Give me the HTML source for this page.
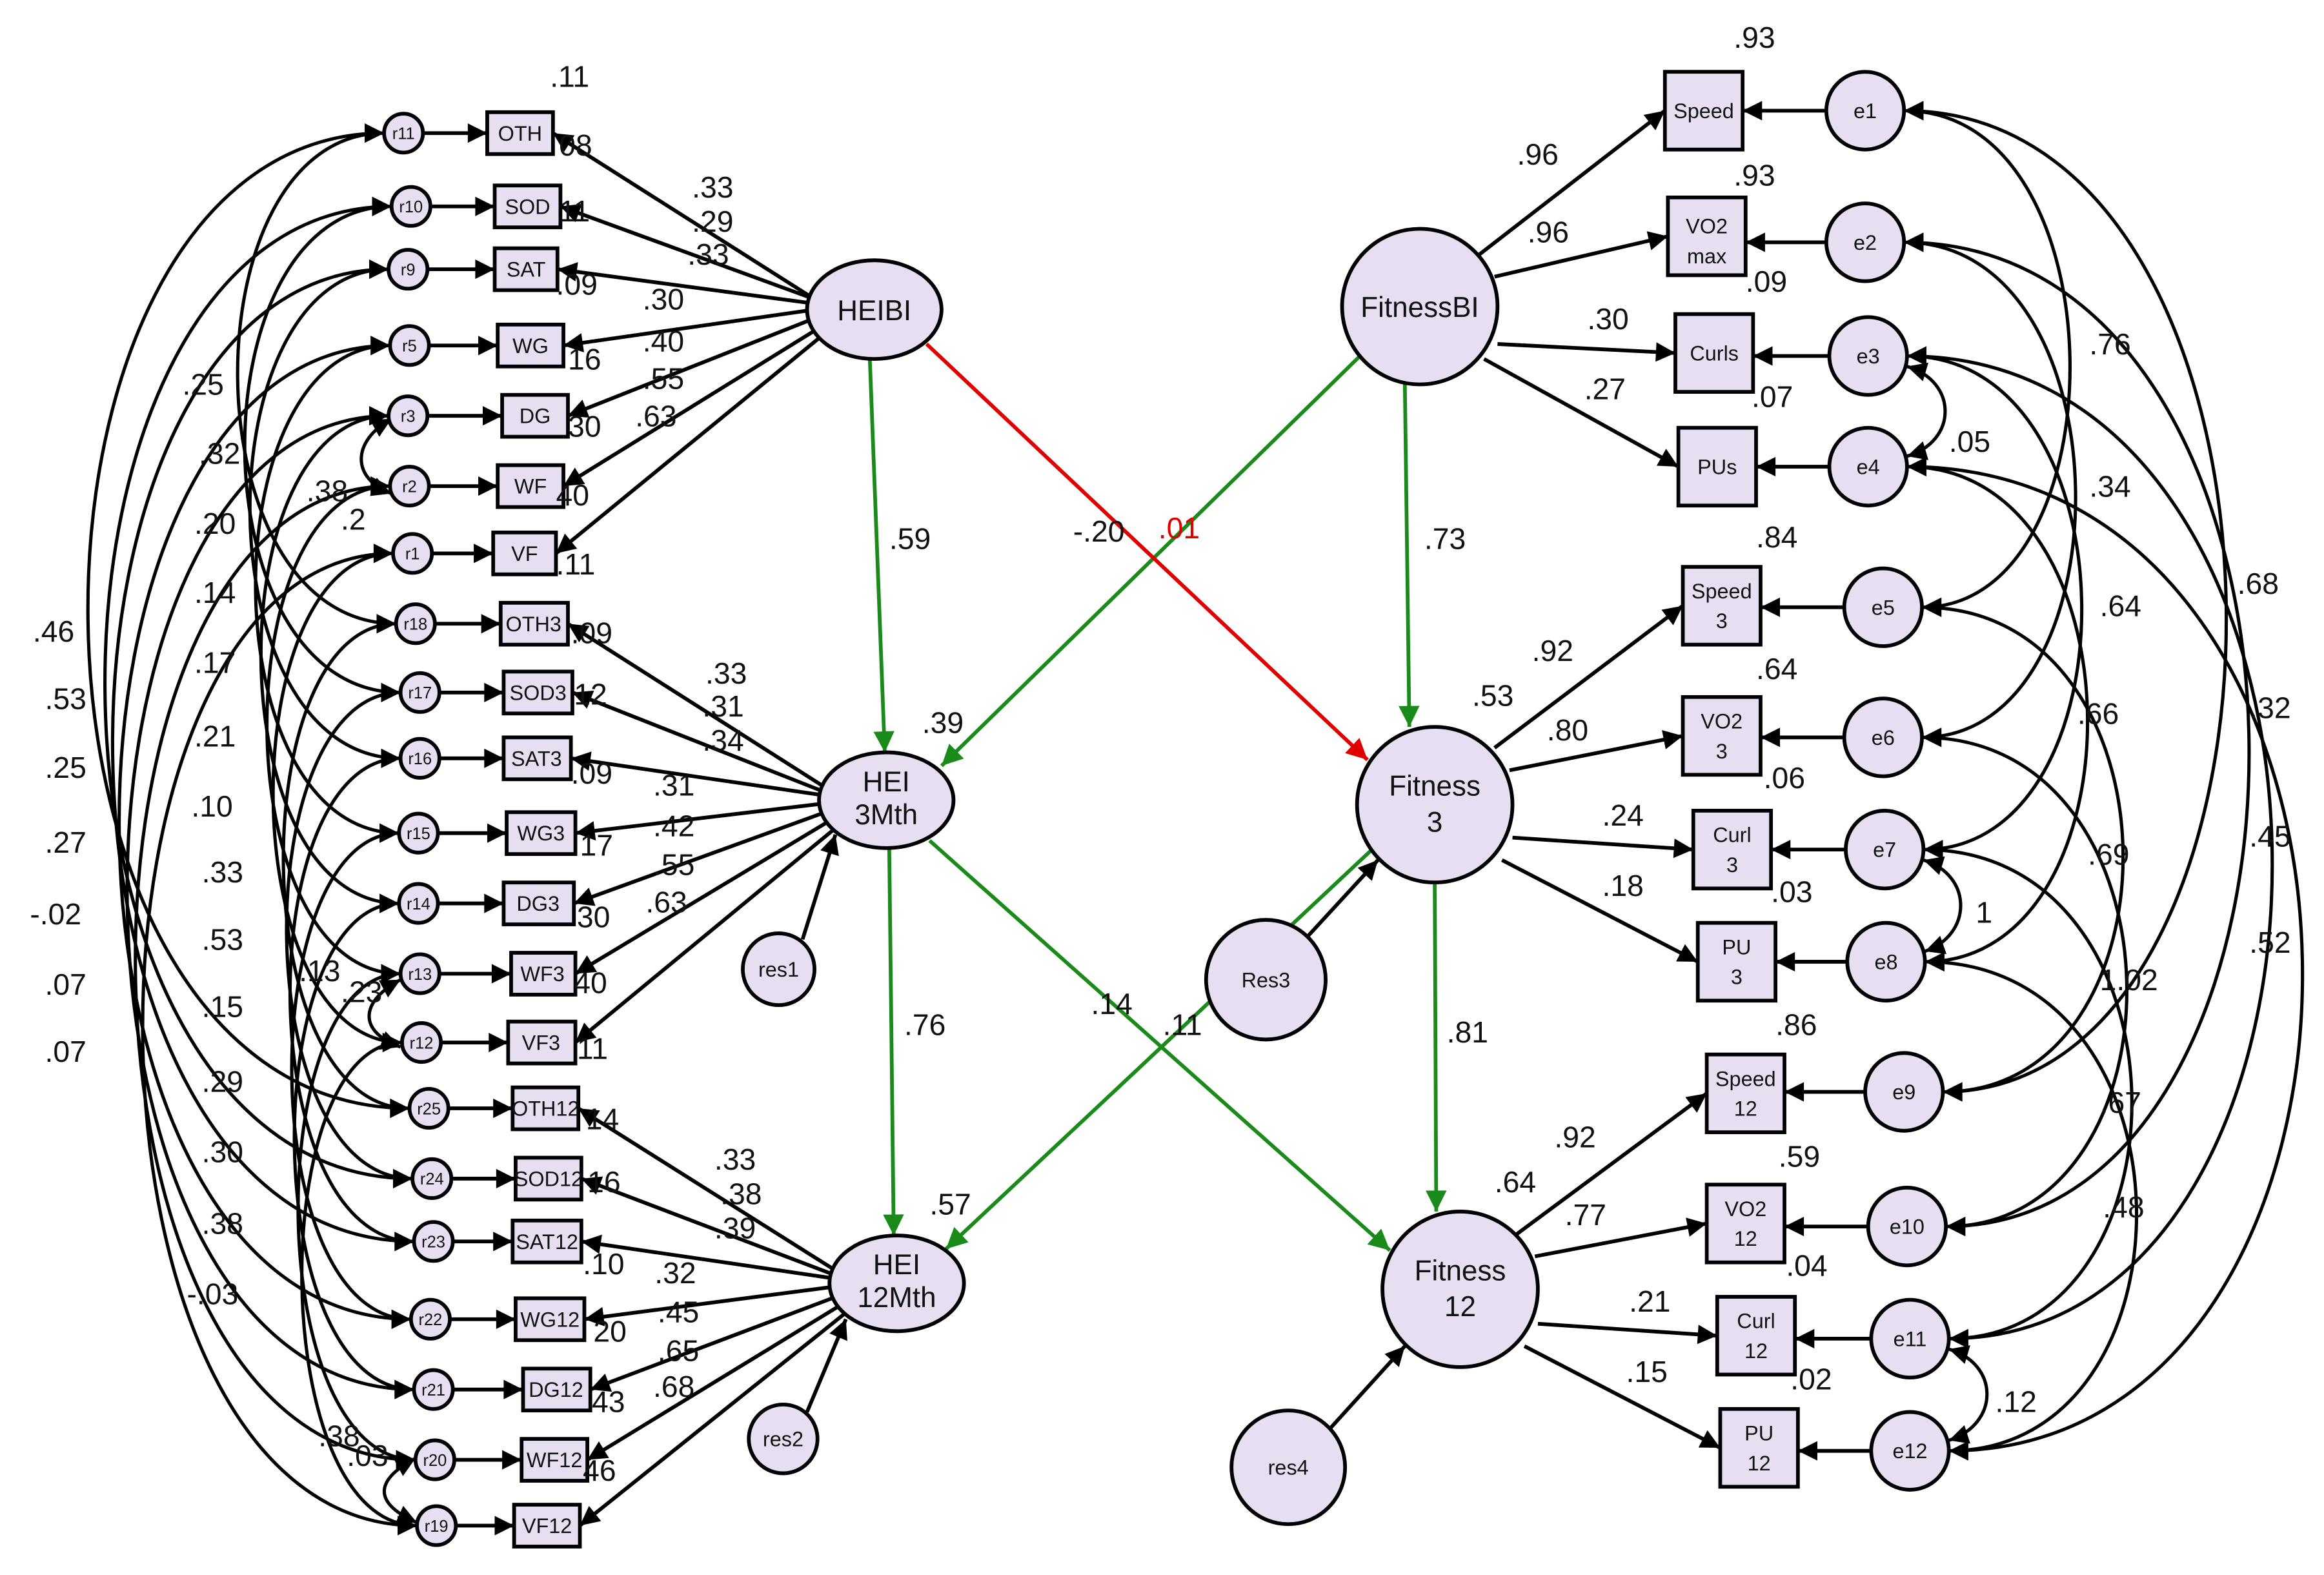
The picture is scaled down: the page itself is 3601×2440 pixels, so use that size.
<!DOCTYPE html>
<html><head><meta charset="utf-8"><style>
html,body{margin:0;padding:0;background:#fff}
svg{display:block}
text{font-family:"Liberation Sans",Arial,sans-serif}
.n{font-size:20px;fill:#111}
.b{font-size:14px;fill:#111;text-anchor:middle}
.l{font-size:19px;fill:#111;text-anchor:middle}
</style></head><body>
<svg width="3601" height="2440" viewBox="0 0 1555 1053" preserveAspectRatio="none" xmlns="http://www.w3.org/2000/svg">
<defs>
<marker id="a" viewBox="0 0 10 10" refX="10" refY="5" markerWidth="20" markerHeight="13" markerUnits="userSpaceOnUse" orient="auto-start-reverse"><path d="M0,0L10,5L0,10z" fill="#000"/></marker>
<marker id="g" viewBox="0 0 10 10" refX="10" refY="5" markerWidth="22" markerHeight="14" markerUnits="userSpaceOnUse" orient="auto"><path d="M0,0L10,5L0,10z" fill="#1a8a1a"/></marker>
<marker id="r" viewBox="0 0 10 10" refX="10" refY="5" markerWidth="22" markerHeight="14" markerUnits="userSpaceOnUse" orient="auto"><path d="M0,0L10,5L0,10z" fill="#e00000"/></marker>
</defs>
<rect width="1555" height="1053" fill="#fff"/>

<!-- left covariances -->
<g fill="none" stroke="#000" stroke-width="2.2" marker-start="url(#a)" marker-end="url(#a)">
<path d="M257 89 C125 89 125 417 265 417"/><path d="M265 417 C163 417 163 741 274 741"/><path d="M257 89 C-10 89 -10 741 274 741"/>
<path d="M262 138 C130 138 130 463 268 463"/><path d="M268 463 C165 463 165 788 276 788"/><path d="M262 138 C4 138 4 788 276 788"/>
<path d="M260 180 C135 180 135 507 268 507"/><path d="M268 507 C168 507 168 830 277 830"/><path d="M260 180 C11 180 11 830 277 830"/>
<path d="M261 231 C140 231 140 557 267 557"/><path d="M267 557 C170 557 170 882 275 882"/><path d="M261 231 C17 231 17 882 275 882"/>
<path d="M260 278 C145 278 145 604 267 604"/><path d="M267 604 C172 604 172 929 277 929"/><path d="M260 278 C24 278 24 929 277 929"/>
<path d="M261 325 C150 325 150 651 268 651"/><path d="M268 651 C175 651 175 976 278 976"/><path d="M261 325 C31 325 31 976 278 976"/>
<path d="M263 370 C155 370 155 697 269 697"/><path d="M269 697 C178 697 178 1020 279 1020"/><path d="M263 370 C37 370 37 1020 279 1020"/>
<path d="M262 280 C235 295 235 320 262 330"/><path d="M268 655 C240 670 240 690 268 700"/><path d="M278 975 C250 990 250 1005 279 1018"/>
</g>

<!-- right covariances -->
<g fill="none" stroke="#000" stroke-width="2.2" marker-start="url(#a)" marker-end="url(#a)">
<path d="M1274 74 C1420 74 1420 406 1286 406"/><path d="M1286 406 C1463 406 1463 730 1300 730"/><path d="M1274 74 C1557 74 1557 730 1300 730"/>
<path d="M1274 162 C1425 162 1425 493 1286 493"/><path d="M1286 493 C1466 493 1466 820 1302 820"/><path d="M1274 162 C1577 162 1577 820 1302 820"/>
<path d="M1276 238 C1430 238 1430 568 1287 568"/><path d="M1287 568 C1470 568 1470 895 1304 895"/><path d="M1276 238 C1597 238 1597 895 1304 895"/>
<path d="M1276 312 C1435 312 1435 643 1288 643"/><path d="M1288 643 C1474 643 1474 970 1304 970"/><path d="M1276 312 C1624 312 1624 970 1304 970"/>
<path d="M1276 245 C1310 255 1310 295 1276 305"/><path d="M1287 575 C1320 585 1320 625 1288 636"/><path d="M1304 902 C1338 912 1338 952 1304 963"/>
</g>

<!-- measurement paths left -->
<g stroke="#000" stroke-width="2.5" marker-end="url(#a)">
<line x1="283" y1="89" x2="326" y2="89"/><line x1="288" y1="138" x2="331" y2="138"/><line x1="286" y1="180" x2="331" y2="180"/>
<line x1="287" y1="231" x2="333" y2="231"/><line x1="286" y1="278" x2="336" y2="278"/><line x1="287" y1="325" x2="333" y2="325"/>
<line x1="289" y1="370" x2="330" y2="370"/><line x1="291" y1="417" x2="335" y2="417"/><line x1="294" y1="463" x2="337" y2="463"/>
<line x1="294" y1="507" x2="337" y2="507"/><line x1="293" y1="557" x2="339" y2="557"/><line x1="293" y1="604" x2="337" y2="604"/>
<line x1="294" y1="651" x2="342" y2="651"/><line x1="295" y1="697" x2="340" y2="697"/><line x1="300" y1="741" x2="343" y2="741"/>
<line x1="302" y1="788" x2="345" y2="788"/><line x1="303" y1="830" x2="343" y2="830"/><line x1="301" y1="882" x2="345" y2="882"/>
<line x1="303" y1="929" x2="350" y2="929"/><line x1="304" y1="976" x2="349" y2="976"/><line x1="305" y1="1020" x2="344" y2="1020"/>
<!-- HEIBI -->
<line x1="545" y1="200" x2="370" y2="89"/><line x1="545" y1="200" x2="375" y2="138"/><line x1="545" y1="203" x2="373" y2="180"/>
<line x1="545" y1="207" x2="377" y2="231"/><line x1="547" y1="212" x2="380" y2="278"/><line x1="550" y1="218" x2="377" y2="325"/>
<line x1="553" y1="222" x2="372" y2="370"/>
<!-- HEI3 -->
<line x1="553" y1="527" x2="380" y2="417"/><line x1="553" y1="530" x2="383" y2="463"/><line x1="553" y1="532" x2="382" y2="507"/>
<line x1="553" y1="537" x2="385" y2="557"/><line x1="555" y1="542" x2="384" y2="604"/><line x1="558" y1="547" x2="385" y2="651"/>
<line x1="561" y1="552" x2="385" y2="697"/>
<!-- HEI12 -->
<line x1="560" y1="850" x2="387" y2="741"/><line x1="560" y1="853" x2="389" y2="788"/><line x1="560" y1="855" x2="389" y2="830"/>
<line x1="560" y1="860" x2="391" y2="882"/><line x1="562" y1="866" x2="395" y2="929"/><line x1="565" y1="871" x2="393" y2="976"/>
<line x1="568" y1="876" x2="388" y2="1020"/>
<!-- res -->
<line x1="537" y1="628" x2="559" y2="558"/><line x1="540" y1="944" x2="566" y2="882"/>
<line x1="875" y1="626" x2="922" y2="575"/><line x1="890" y1="955" x2="940" y2="900"/>
<!-- right measurement -->
<line x1="990" y1="170" x2="1114" y2="74"/><line x1="1000" y1="185" x2="1116" y2="158"/><line x1="1002" y1="230" x2="1121" y2="236"/><line x1="993" y1="240" x2="1123" y2="312"/>
<line x1="1000" y1="500" x2="1126" y2="405"/><line x1="1010" y1="515" x2="1126" y2="492"/><line x1="1012" y1="560" x2="1133" y2="568"/><line x1="1005" y1="575" x2="1136" y2="643"/>
<line x1="1015" y1="825" x2="1142" y2="731"/><line x1="1027" y1="840" x2="1142" y2="818"/><line x1="1029" y1="885" x2="1149" y2="893"/><line x1="1020" y1="900" x2="1151" y2="968"/>
<line x1="1222" y1="74" x2="1166" y2="74"/><line x1="1222" y1="162" x2="1168" y2="162"/><line x1="1224" y1="238" x2="1173" y2="238"/><line x1="1224" y1="312" x2="1175" y2="312"/>
<line x1="1234" y1="406" x2="1178" y2="406"/><line x1="1234" y1="493" x2="1178" y2="493"/><line x1="1235" y1="568" x2="1185" y2="568"/><line x1="1236" y1="643" x2="1188" y2="643"/>
<line x1="1248" y1="730" x2="1194" y2="730"/><line x1="1250" y1="820" x2="1194" y2="820"/><line x1="1252" y1="895" x2="1201" y2="895"/><line x1="1252" y1="970" x2="1203" y2="970"/>
</g>

<!-- structural -->
<g stroke="#1a8a1a" stroke-width="2.5" marker-end="url(#g)">
<line x1="582" y1="240" x2="592" y2="503"/><line x1="595" y1="567" x2="598" y2="826"/>
<line x1="940" y1="257" x2="943" y2="486"/><line x1="960" y1="590" x2="961" y2="810"/>
<line x1="910" y1="238" x2="630" y2="512"/><line x1="622" y1="562" x2="930" y2="836"/><line x1="918" y1="568" x2="633" y2="835"/>
</g>
<line x1="620" y1="230" x2="915" y2="508" stroke="#e00000" stroke-width="2.5" marker-end="url(#r)"/>

<!-- shapes -->
<g fill="#e8def2" stroke="#000" stroke-width="2.5">
<circle cx="270" cy="89" r="13"/><circle cx="275" cy="138" r="13"/><circle cx="273" cy="180" r="13"/><circle cx="274" cy="231" r="13"/>
<circle cx="273" cy="278" r="13"/><circle cx="274" cy="325" r="13"/><circle cx="276" cy="370" r="13"/><circle cx="278" cy="417" r="13"/>
<circle cx="281" cy="463" r="13"/><circle cx="281" cy="507" r="13"/><circle cx="280" cy="557" r="13"/><circle cx="280" cy="604" r="13"/>
<circle cx="281" cy="651" r="13"/><circle cx="282" cy="697" r="13"/><circle cx="287" cy="741" r="13"/><circle cx="289" cy="788" r="13"/>
<circle cx="290" cy="830" r="13"/><circle cx="288" cy="882" r="13"/><circle cx="290" cy="929" r="13"/><circle cx="291" cy="976" r="13"/>
<circle cx="292" cy="1020" r="13"/>
<rect x="326" y="75" width="44" height="28"/><rect x="331" y="124" width="44" height="28"/><rect x="331" y="166" width="42" height="28"/>
<rect x="333" y="217" width="44" height="28"/><rect x="336" y="264" width="44" height="28"/><rect x="333" y="311" width="44" height="28"/>
<rect x="330" y="356" width="42" height="28"/><rect x="335" y="403" width="45" height="28"/><rect x="337" y="449" width="46" height="28"/>
<rect x="337" y="493" width="45" height="28"/><rect x="339" y="543" width="46" height="28"/><rect x="337" y="590" width="47" height="28"/>
<rect x="342" y="637" width="43" height="28"/><rect x="340" y="683" width="45" height="28"/><rect x="343" y="727" width="44" height="28"/>
<rect x="345" y="774" width="44" height="28"/><rect x="343" y="816" width="46" height="28"/><rect x="345" y="868" width="46" height="28"/>
<rect x="350" y="915" width="45" height="28"/><rect x="349" y="962" width="44" height="28"/><rect x="344" y="1006" width="44" height="28"/>
<ellipse cx="585" cy="207" rx="45" ry="33"/><ellipse cx="593" cy="535" rx="45" ry="32"/><ellipse cx="600" cy="858" rx="45" ry="32"/>
<circle cx="521" cy="648" r="24"/><circle cx="524" cy="962" r="23"/><circle cx="847" cy="655" r="40"/><circle cx="862" cy="981" r="38"/>
<circle cx="950" cy="205" r="52"/><circle cx="960" cy="538" r="52"/><circle cx="977" cy="862" r="52"/>
<rect x="1114" y="48" width="52" height="52"/><rect x="1116" y="132" width="52" height="52"/><rect x="1121" y="210" width="52" height="52"/><rect x="1123" y="286" width="52" height="52"/>
<rect x="1126" y="379" width="52" height="52"/><rect x="1126" y="466" width="52" height="52"/><rect x="1133" y="542" width="52" height="52"/><rect x="1136" y="617" width="52" height="52"/>
<rect x="1142" y="705" width="52" height="52"/><rect x="1142" y="792" width="52" height="52"/><rect x="1149" y="867" width="52" height="52"/><rect x="1151" y="942" width="52" height="52"/>
<circle cx="1248" cy="74" r="26"/><circle cx="1248" cy="162" r="26"/><circle cx="1250" cy="238" r="26"/><circle cx="1250" cy="312" r="26"/>
<circle cx="1260" cy="406" r="26"/><circle cx="1260" cy="493" r="26"/><circle cx="1261" cy="568" r="26"/><circle cx="1262" cy="643" r="26"/>
<circle cx="1274" cy="730" r="26"/><circle cx="1276" cy="820" r="26"/><circle cx="1278" cy="895" r="26"/><circle cx="1278" cy="970" r="26"/>
</g>

<!-- shape labels -->
<g style="font-size:11px;text-anchor:middle;fill:#111">
<text x="270" y="93">r11</text><text x="275" y="142">r10</text><text x="273" y="184">r9</text><text x="274" y="235">r5</text>
<text x="273" y="282">r3</text><text x="274" y="329">r2</text><text x="276" y="374">r1</text><text x="278" y="421">r18</text>
<text x="281" y="467">r17</text><text x="281" y="511">r16</text><text x="280" y="561">r15</text><text x="280" y="608">r14</text>
<text x="281" y="655">r13</text><text x="282" y="701">r12</text><text x="287" y="745">r25</text><text x="289" y="792">r24</text>
<text x="290" y="834">r23</text><text x="288" y="886">r22</text><text x="290" y="933">r21</text><text x="291" y="980">r20</text><text x="292" y="1024">r19</text>
</g>
<g class="b">
<text x="348" y="94">OTH</text><text x="353" y="143">SOD</text><text x="352" y="185">SAT</text><text x="355" y="236">WG</text>
<text x="358" y="283">DG</text><text x="355" y="330">WF</text><text x="351" y="375">VF</text><text x="357" y="422">OTH3</text>
<text x="360" y="468">SOD3</text><text x="359" y="512">SAT3</text><text x="362" y="562">WG3</text><text x="360" y="609">DG3</text>
<text x="363" y="656">WF3</text><text x="362" y="702">VF3</text><text x="365" y="746">OTH12</text><text x="367" y="793">SOD12</text>
<text x="366" y="835">SAT12</text><text x="368" y="887">WG12</text><text x="372" y="934">DG12</text><text x="371" y="981">WF12</text><text x="366" y="1025">VF12</text>
<text x="1140" y="79">Speed</text>
<text x="1142" y="156">VO2</text><text x="1142" y="176">max</text>
<text x="1147" y="241">Curls</text><text x="1149" y="317">PUs</text>
<text x="1152" y="400">Speed</text><text x="1152" y="420">3</text>
<text x="1152" y="487">VO2</text><text x="1152" y="507">3</text>
<text x="1159" y="563">Curl</text><text x="1159" y="583">3</text>
<text x="1162" y="638">PU</text><text x="1162" y="658">3</text>
<text x="1168" y="726">Speed</text><text x="1168" y="746">12</text>
<text x="1168" y="813">VO2</text><text x="1168" y="833">12</text>
<text x="1175" y="888">Curl</text><text x="1175" y="908">12</text>
<text x="1177" y="963">PU</text><text x="1177" y="983">12</text>
<text x="1248" y="79">e1</text><text x="1248" y="167">e2</text><text x="1250" y="243">e3</text><text x="1250" y="317">e4</text>
<text x="1260" y="411">e5</text><text x="1260" y="498">e6</text><text x="1261" y="573">e7</text><text x="1262" y="648">e8</text>
<text x="1274" y="735">e9</text><text x="1276" y="825">e10</text><text x="1278" y="900">e11</text><text x="1278" y="975">e12</text>
<text x="521" y="653">res1</text><text x="524" y="967">res2</text><text x="847" y="660">Res3</text><text x="862" y="986">res4</text>
</g>
<g class="l">
<text x="585" y="214">HEIBI</text>
<text x="593" y="529">HEI</text><text x="593" y="551">3Mth</text>
<text x="600" y="852">HEI</text><text x="600" y="874">12Mth</text>
<text x="950" y="212">FitnessBI</text>
<text x="960" y="532">Fitness</text><text x="960" y="556">3</text>
<text x="977" y="856">Fitness</text><text x="977" y="880">12</text>
</g>

<!-- numeric labels -->
<g class="n">
<text x="368" y="58">.11</text>
<text x="463" y="132">.33</text><text x="463" y="155">.29</text><text x="460" y="177">.33</text><text x="430" y="207">.30</text><text x="430" y="235">.40</text><text x="430" y="260">.55</text><text x="425" y="285">.63</text>
<text x="374" y="104">08</text><text x="374" y="148">11</text><text x="372" y="197">.09</text><text x="380" y="247">16</text><text x="380" y="292">30</text><text x="372" y="338">40</text><text x="372" y="384">.11</text>
<text x="472" y="457">.33</text><text x="470" y="479">.31</text><text x="470" y="502">.34</text><text x="437" y="532">.31</text><text x="437" y="559">.42</text><text x="437" y="585">.55</text><text x="432" y="610">.63</text>
<text x="382" y="430">.09</text><text x="384" y="471">12</text><text x="382" y="524">.09</text><text x="388" y="572">17</text><text x="386" y="620">30</text><text x="384" y="664">40</text><text x="386" y="708">11</text>
<text x="478" y="782">.33</text><text x="482" y="805">.38</text><text x="478" y="828">.39</text><text x="438" y="858">.32</text><text x="440" y="884">.45</text><text x="440" y="910">.65</text><text x="437" y="934">.68</text>
<text x="392" y="755">14</text><text x="393" y="797">16</text><text x="390" y="852">.10</text><text x="397" y="897">20</text><text x="396" y="944">43</text><text x="390" y="990">46</text>
<text x="122" y="264">.25</text><text x="133" y="310">.32</text><text x="130" y="357">.20</text><text x="130" y="403">.14</text><text x="130" y="450">.17</text><text x="130" y="499">.21</text><text x="128" y="546">.10</text>
<text x="135" y="590">.33</text><text x="135" y="635">.53</text><text x="135" y="680">.15</text><text x="135" y="730">.29</text><text x="135" y="777">.30</text><text x="135" y="825">.38</text><text x="125" y="872">-.03</text>
<text x="22" y="429">.46</text><text x="30" y="474">.53</text><text x="30" y="520">.25</text><text x="30" y="570">.27</text><text x="20" y="618">-.02</text><text x="30" y="665">.07</text><text x="30" y="710">.07</text>
<text x="205" y="335">.38</text><text x="228" y="354">.2</text><text x="200" y="656">.13</text><text x="228" y="670">.23</text><text x="213" y="967">.38</text><text x="232" y="980">.03</text>
<text x="595" y="367">.59</text><text x="718" y="362">-.20</text><text x="775" y="360" fill="#e00000">.01</text><text x="953" y="367">.73</text>
<text x="617" y="490">.39</text><text x="985" y="472">.53</text><text x="605" y="692">.76</text><text x="730" y="678">.14</text><text x="778" y="692">.11</text>
<text x="968" y="697">.81</text><text x="622" y="812">.57</text><text x="1000" y="797">.64</text>
<text x="1160" y="32">.93</text><text x="1015" y="110">.96</text><text x="1160" y="124">.93</text><text x="1022" y="162">.96</text><text x="1168" y="195">.09</text>
<text x="1062" y="220">.30</text><text x="1172" y="272">.07</text><text x="1060" y="267">.27</text><text x="1175" y="366">.84</text><text x="1025" y="442">.92</text>
<text x="1175" y="454">.64</text><text x="1035" y="495">.80</text><text x="1180" y="527">.06</text><text x="1072" y="552">.24</text><text x="1185" y="603">.03</text>
<text x="1072" y="599">.18</text><text x="1188" y="692">.86</text><text x="1040" y="767">.92</text><text x="1190" y="780">.59</text><text x="1047" y="819">.77</text>
<text x="1195" y="853">.04</text><text x="1090" y="877">.21</text><text x="1198" y="929">.02</text><text x="1088" y="924">.15</text>
<text x="1398" y="237">.76</text><text x="1304" y="302">.05</text><text x="1398" y="332">.34</text><text x="1405" y="412">.64</text><text x="1497" y="397">.68</text>
<text x="1390" y="484">.66</text><text x="1505" y="480">.32</text><text x="1397" y="578">.69</text><text x="1505" y="566">.45</text><text x="1405" y="662">1.02</text>
<text x="1505" y="637">.52</text><text x="1405" y="744">.67</text><text x="1407" y="814">.48</text><text x="1335" y="944">.12</text><text x="1322" y="617">1</text>
</g>
</svg>
</body></html>
